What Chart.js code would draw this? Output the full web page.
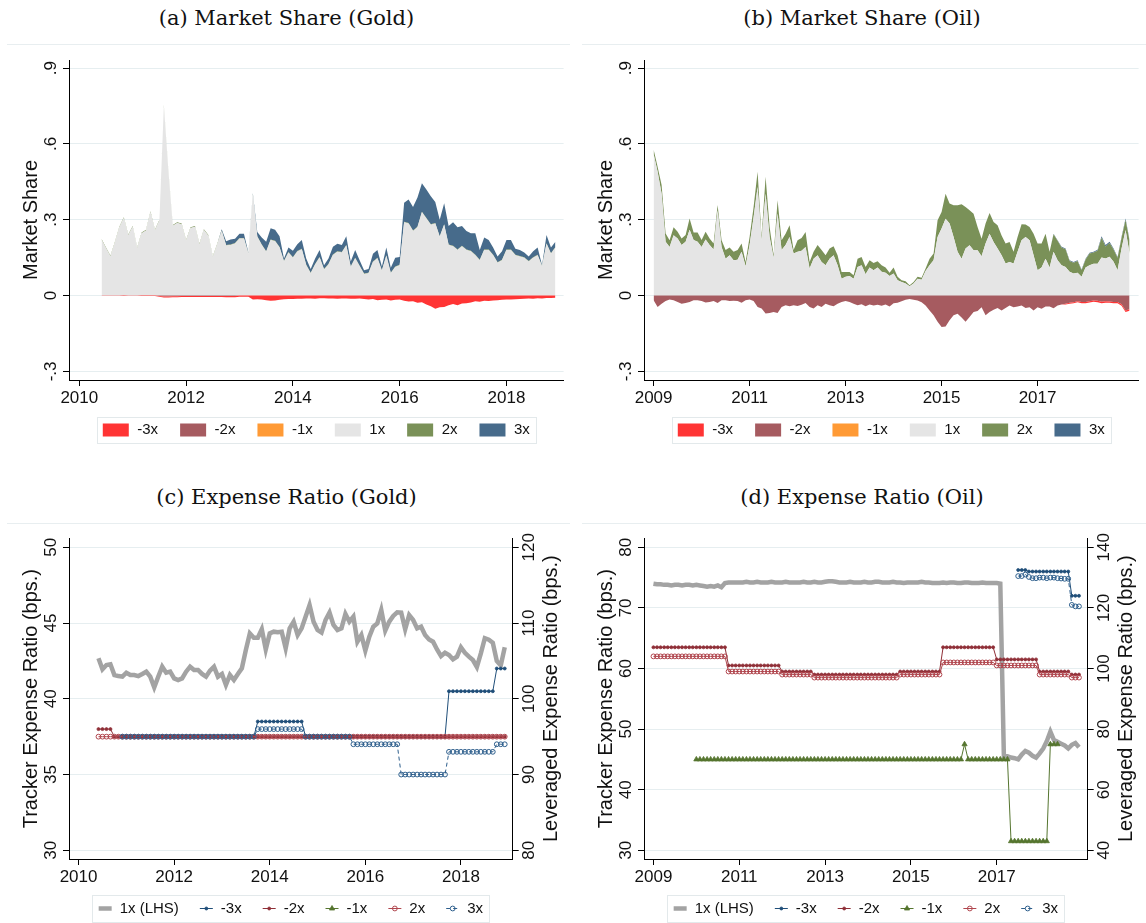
<!DOCTYPE html>
<html>
<head>
<meta charset="utf-8">
<title>Leveraged commodity ETFs: market share and expense ratios</title>
<script src="https://cdn.jsdelivr.net/npm/chart.js@4.4.1/dist/chart.umd.min.js"></script>
<style>
  html, body { margin: 0; padding: 0; background: #fff; }
  #page { position: relative; width: 1146px; height: 923px; overflow: hidden; }
  .panel-title { position: absolute; font: 21px/24px "DejaVu Serif", serif; color: #111; text-align: center; white-space: nowrap; }
  .rule { position: absolute; height: 1px; background: #e8eef0; }
  canvas { position: absolute; }
</style>
</head>
<body>
<div id="page">
  <div class="panel-title" style="left:0;top:6px;width:573px">(a) Market Share (Gold)</div>
  <div class="panel-title" style="left:575px;top:6px;width:574px">(b) Market Share (Oil)</div>
  <div class="rule" style="left:7px;top:44px;width:563px"></div>
  <div class="rule" style="left:582px;top:44px;width:564px"></div>
  <canvas id="shareGold" width="571" height="404" style="left:0;top:46px"></canvas>
  <canvas id="shareOil" width="571" height="404" style="left:575px;top:46px"></canvas>

  <div class="panel-title" style="left:0;top:485px;width:573px">(c) Expense Ratio (Gold)</div>
  <div class="panel-title" style="left:575px;top:485px;width:574px">(d) Expense Ratio (Oil)</div>
  <div class="rule" style="left:7px;top:523px;width:563px"></div>
  <div class="rule" style="left:582px;top:523px;width:564px"></div>
  <canvas id="feeGold" width="571" height="399" style="left:0;top:524px"></canvas>
  <canvas id="feeOil" width="571" height="399" style="left:575px;top:524px"></canvas>
</div>
<script>
// ---- tick labels ----
const goldYearTicks = [2010, 2012, 2014, 2016, 2018];
const oilYearTicks = [2009, 2011, 2013, 2015, 2017];
const shareTicks = [-0.3, 0, 0.3, 0.6, 0.9];
const goldTrackerTicks = [30, 35, 40, 45, 50];
const goldLeveragedTicks = [80, 90, 100, 110, 120];
const oilTrackerTicks = [30, 40, 50, 60, 70, 80];
const oilLeveragedTicks = [40, 60, 80, 100, 120, 140];
const shareLabels = ['-3x', '-2x', '-1x', '1x', '2x', '3x'];
const feeLabels = ['1x (LHS)', '-3x', '-2x', '-1x', '2x', '3x'];

// ---- gold market share, monthly from Jun 2010 ----
const gold1x = [
  .221, .187, .155, .21, .269, .307, .239,
  .272, .187, .247, .257, .331, .257, .297, .751, .497, .276, .287, .282,
  .217, .267, .272, .202, .259, .237, .153, .202, .255, .198, .2, .206,
  .226, .226, .165, .4, .233, .2, .173, .22, .215, .19, .135, .17,
  .15, .174, .183, .12, .088, .123, .151, .103, .123, .161, .173, .17,
  .198, .113, .148, .116, .085, .088, .133, .148, .098, .158, .088, .113,
  .12, .29, .285, .255, .27, .33, .305, .28, .285, .233, .28, .2,
  .195, .18, .195, .18, .175, .16, .14, .18, .18, .16, .13, .14,
  .18, .18, .16, .155, .15, .135, .15, .16, .115, .205, .165, .19
];
const gold2x = [
  .003, .003, .003, .003, .003, .003, .003,
  .003, .003, .003, .003, .003, .003, .003, .003, .003, .003, .003, .003,
  .003, .003, .003, .003, .003, .003, .003, .003, .002, .002, .002, .002,
  .002, .002, .002, .002, .002, .002, .002, .002, .002, .002, .002, .002,
  .002, .002, .002, .002, .002, .002, .002, .002, .002, .002, .002, .002,
  .002, .002, .002, .002, .002, .002, .002, .002, .002, .002, .002, .002,
  .002, .002, .002, .002, .002, .002, .002, .002, .002, .002, .002, .002,
  .002, .002, .002, .002, .002, .002, .002, .002, .002, .002, .002, .002,
  .002, .002, .002, .002, .002, .002, .002, .002, .002, .002, .002, .002
];
// from Sep 2012
const gold3x = [
  .005, .015, .02, .017,
  .017, .017, .003, .003, .017, .028, .038, .044, .043, .043, .01, .018,
  .025, .027, .035, .025, .015, .022, .027, .015, .022, .03, .03, .028,
  .035, .02, .03, .022, .013, .015, .03, .03, .015, .03, .02, .035,
  .031, .075, .093, .093, .116, .112, .113, .111, .083, .065, .083, .073,
  .093, .088, .078, .073, .07, .085, .038, .048, .038, .028, .023, .033,
  .038, .038, .023, .023, .018, .018, .023, .028, .003, .033, .023, .021
];
const goldM1x = [];
// from Jul 2011 to Dec 2012
const goldM2x = [-.002, -.004, -.004, -.003, -.003, -.002,
  -.002, -.002, -.002, -.002, -.002, -.002, -.002, -.002, -.002, -.002, -.002, -.002];
const goldM3x = [
  -.001, -.001, -.001, -.001, -.001, -.002, -.001,
  -.001, -.001, -.002, -.002, -.002, -.002, -.003, -.004, -.004, -.004, -.004, -.004,
  -.004, -.004, -.004, -.004, -.004, -.004, -.004, -.004, -.004, -.005, -.005, -.005,
  -.005, -.005, -.005, -.016, -.015, -.016, -.018, -.02, -.019, -.017, -.015, -.014,
  -.014, -.013, -.013, -.012, -.012, -.013, -.011, -.011, -.012, -.012, -.013, -.012,
  -.012, -.013, -.013, -.012, -.014, -.016, -.014, -.018, -.017, -.016, -.019, -.017,
  -.016, -.02, -.023, -.022, -.028, -.026, -.035, -.042, -.052, -.046, -.045, -.038,
  -.033, -.038, -.031, -.03, -.027, -.022, -.024, -.02, -.021, -.019, -.018, -.017,
  -.016, -.016, -.015, -.014, -.013, -.012, -.013, -.011, -.012, -.01, -.01, -.009
];

// ---- oil market share, monthly from Jan 2009 ----
const oil1x = [
  .56, .49, .403, .213, .192, .239, .226, .2, .213, .26, .22, .213,
  .192, .222, .2, .182, .338, .192, .146, .16, .14, .142, .173, .116,
  .2, .31, .43, .219, .403, .232, .15, .325, .18, .2, .232, .166,
  .173, .177, .192, .107, .146, .16, .133, .12, .146, .16, .12, .067,
  .074, .077, .067, .113, .12, .084, .111, .1, .111, .094, .09, .077,
  .087, .061, .054, .048, .037, .048, .067, .063, .097, .12, .14, .232,
  .265, .304, .285, .232, .173, .146, .186, .199, .179, .179, .156, .206,
  .245, .212, .186, .16, .127, .133, .127, .173, .219, .232, .219, .16,
  .1, .111, .146, .111, .173, .14, .12, .113, .094, .087, .09, .074,
  .111, .12, .126, .126, .151, .147, .154, .134, .1, .186, .259, .167
];
const oil2x = [
  .018, .02, .034, .033, .027, .031, .027, .026, .027, .045, .03, .037,
  .028, .031, .026, .024, .02, .027, .034, .03, .033, .038, .033, .017,
  .032, .04, .06, .013, .067, .04, .01, .052, .039, .045, .046, .014,
  .046, .051, .06, .026, .027, .04, .047, .04, .04, .035, .04, .026,
  .019, .016, .013, .033, .033, .029, .029, .029, .025, .026, .021, .013,
  .024, .013, .007, .009, .004, .006, .007, .008, .01, .026, .026, .066,
  .066, .099, .079, .125, .184, .215, .164, .139, .145, .092, .069, .079,
  .082, .079, .092, .078, .079, .079, .046, .059, .063, .049, .052, .085,
  .106, .095, .099, .062, .07, .077, .07, .07, .043, .043, .047, .026,
  .032, .046, .044, .051, .078, .047, .054, .048, .05, .043, .04, .049
];
// from May 2017
const oil3x = [.002, .002, .003, .003, .003, .003, .003, .003, .003, .003,
  .003, .004, .006, .006, .005, .004, .003, .004, .006, .004];
const oilM1x = [];
const oilM2x = [
  -.018, -.045, -.032, -.021, -.016, -.018, -.025, -.032, -.029, -.025, -.018, -.018,
  -.021, -.027, -.025, -.021, -.029, -.018, -.018, -.021, -.02, -.021, -.028, -.018,
  -.016, -.021, -.045, -.051, -.071, -.069, -.065, -.069, -.045, -.038, -.042, -.038,
  -.041, -.036, -.029, -.045, -.051, -.038, -.045, -.032, -.038, -.042, -.032, -.025,
  -.021, -.025, -.032, -.038, -.034, -.042, -.035, -.039, -.036, -.04, -.035, -.043,
  -.03, -.028, -.022, -.017, -.014, -.017, -.019, -.026, -.039, -.059, -.078, -.104,
  -.124, -.122, -.098, -.078, -.072, -.087, -.104, -.085, -.065, -.061, -.046, -.078,
  -.065, -.056, -.049, -.059, -.049, -.039, -.046, -.043, -.039, -.049, -.046, -.059,
  -.046, -.052, -.043, -.043, -.05, -.039, -.035, -.032, -.028, -.026, -.022, -.025,
  -.025, -.022, -.019, -.02, -.024, -.022, -.023, -.025, -.025, -.034, -.059, -.054
];
// from Aug 2017
const oilM3x = [-.003, -.004, -.004, -.004, -.005, -.005, -.005, -.005, -.006,
  -.006, -.006, -.005, -.005, -.005, -.006, -.006, -.006];

// ---- gold expense ratios (bps.), monthly from Jun 2010 ----
const goldFee1x = [
  42.67, 41.95, 42.23, 42.28, 41.57, 41.5, 41.46,
  41.72, 41.57, 41.57, 41.5, 41.64, 41.79, 41.46, 40.76, 41.46, 42.12, 41.72, 41.79,
  41.35, 41.24, 41.35, 41.79, 42.12, 41.9, 41.9, 41.64, 41.46, 41.86, 42.12, 41.46,
  41.64, 40.91, 41.57, 41.24, 41.64, 42.01, 43.22, 44.32, 44.03, 44.03, 44.59, 43.26,
  44.32, 44.43, 44.39, 44.43, 43.33, 44.65, 45.09, 44.21, 44.65, 45.42, 46.19, 45.09,
  44.54, 44.37, 45.2, 45.69, 44.87, 44.54, 44.65, 45.6, 45.09, 45.42, 43.77, 44.21,
  43.18, 44.1, 44.76, 44.98, 45.86, 44.5, 45.09, 45.47, 45.71, 45.69, 44.59, 45.53,
  45.2, 44.65, 44.76, 44.21, 43.92, 43.77, 43.26, 42.82, 43.04, 42.89, 42.61, 42.78,
  43.4, 43.04, 42.78, 42.56, 42.1, 43.0, 44.0, 43.9, 43.7, 42.5, 42.2, 43.4
];
// from Dec 2010
const goldFeeM3x = [
  95,
  95, 95, 95, 95, 95, 95, 95, 95, 95, 95, 95, 95,
  95, 95, 95, 95, 95, 95, 95, 95, 95, 95, 95, 95,
  95, 95, 95, 95, 95, 95, 95, 95, 95, 97, 97, 97,
  97, 97, 97, 97, 97, 97, 97, 97, 97, 95, 95, 95,
  95, 95, 95, 95, 95, 95, 95, 95, 95, 95, 95, 95,
  95, 95, 95, 95, 95, 95, 95, 95, 95, 95, 95, 95,
  95, 95, 95, 95, 95, 95, 95, 95, 95, 101, 101, 101,
  101, 101, 101, 101, 101, 101, 101, 101, 101, 104, 104, 104
];
const goldFeeM2x = [
  96, 96, 96, 96, 95, 95, 95,
  95, 95, 95, 95, 95, 95, 95, 95, 95, 95, 95, 95,
  95, 95, 95, 95, 95, 95, 95, 95, 95, 95, 95, 95,
  95, 95, 95, 95, 95, 95, 95, 95, 95, 95, 95, 95,
  95, 95, 95, 95, 95, 95, 95, 95, 95, 95, 95, 95,
  95, 95, 95, 95, 95, 95, 95, 95, 95, 95, 95, 95,
  95, 95, 95, 95, 95, 95, 95, 95, 95, 95, 95, 95,
  95, 95, 95, 95, 95, 95, 95, 95, 95, 95, 95, 95,
  95, 95, 95, 95, 95, 95, 95, 95, 95, 95, 95, 95
];
const goldFeeM1x = [];
const goldFee2x = [
  95, 95, 95, 95, 95, 95, 95,
  95, 95, 95, 95, 95, 95, 95, 95, 95, 95, 95, 95,
  95, 95, 95, 95, 95, 95, 95, 95, 95, 95, 95, 95,
  95, 95, 95, 95, 95, 95, 95, 95, 95, 95, 95, 95,
  95, 95, 95, 95, 95, 95, 95, 95, 95, 95, 95, 95,
  95, 95, 95, 95, 95, 95, 95, 95, 95, 95, 95, 95,
  95, 95, 95, 95, 95, 95, 95, 95, 95, 95, 95, 95,
  95, 95, 95, 95, 95, 95, 95, 95, 95, 95, 95, 95,
  95, 95, 95, 95, 95, 95, 95, 95, 95, 95, 95, 95
];
// from Dec 2010
const goldFee3x = [
  95,
  95, 95, 95, 95, 95, 95, 95, 95, 95, 95, 95, 95,
  95, 95, 95, 95, 95, 95, 95, 95, 95, 95, 95, 95,
  95, 95, 95, 95, 95, 95, 95, 95, 95, 96, 96, 96,
  96, 96, 96, 96, 96, 96, 96, 96, 96, 95, 95, 95,
  95, 95, 95, 95, 95, 95, 95, 95, 95, 94, 94, 94,
  94, 94, 94, 94, 94, 94, 94, 94, 94, 90, 90, 90,
  90, 90, 90, 90, 90, 90, 90, 90, 90, 93, 93, 93,
  93, 93, 93, 93, 93, 93, 93, 93, 93, 94, 94, 94
];

// ---- oil expense ratios (bps.), monthly from Jan 2009 ----
const oilFee1x = [
  74.0, 73.9, 73.9, 73.8, 73.8, 73.7, 73.8, 73.8, 73.7, 73.8, 73.8, 73.7,
  73.8, 73.7, 73.6, 73.5, 73.6, 73.5, 73.7, 73.4, 74.1, 74.2, 74.2, 74.2,
  74.2, 74.2, 74.3, 74.2, 74.2, 74.3, 74.2, 74.2, 74.2, 74.3, 74.2, 74.2,
  74.2, 74.3, 74.2, 74.2, 74.2, 74.2, 74.3, 74.2, 74.2, 74.3, 74.2, 74.2,
  74.3, 74.4, 74.4, 74.3, 74.2, 74.2, 74.2, 74.3, 74.2, 74.2, 74.2, 74.3,
  74.2, 74.2, 74.3, 74.3, 74.2, 74.2, 74.2, 74.3, 74.2, 74.2, 74.1, 74.2,
  74.2, 74.2, 74.2, 74.3, 74.2, 74.2, 74.1, 74.1, 74.1, 74.2, 74.1, 74.2,
  74.2, 74.1, 74.1, 74.2, 74.2, 74.1, 74.1, 74.1, 74.2, 74.1, 74.1, 74.1,
  74.1, 74.0, 45.5, 45.5, 45.3, 45.2, 45.0, 45.8, 46.4, 46.1, 45.6, 45.3,
  46.0, 46.8, 48.0, 49.6, 48.2, 47.9, 47.6, 47.3, 46.8, 47.4, 47.7, 47.0
];
// from Jul 2017
const oilFeeM3x = [132.5, 132.5, 132.5, 132, 132, 132, 132, 132, 132,
  132, 132, 132, 132, 132, 132, 124, 124, 124];
const oilFeeM2x = [
  107, 107, 107, 107, 107, 107, 107, 107, 107, 107, 107, 107,
  107, 107, 107, 107, 107, 107, 107, 107, 107, 101, 101, 101,
  101, 101, 101, 101, 101, 101, 101, 101, 101, 101, 101, 101,
  99, 99, 99, 99, 99, 99, 99, 99, 99, 98, 98, 98,
  98, 98, 98, 98, 98, 98, 98, 98, 98, 98, 98, 98,
  98, 98, 98, 98, 98, 98, 98, 98, 98, 99, 99, 99,
  99, 99, 99, 99, 99, 99, 99, 99, 99, 107, 107, 107,
  107, 107, 107, 107, 107, 107, 107, 107, 107, 107, 107, 107,
  103, 103, 103, 103, 103, 103, 103, 103, 103, 103, 103, 103,
  99, 99, 99, 99, 99, 99, 99, 99, 99, 98, 98, 98
];
// from Jan 2010 to Jun 2018
const oilFeeM1x = [
  70, 70, 70, 70, 70, 70, 70, 70, 70, 70, 70, 70,
  70, 70, 70, 70, 70, 70, 70, 70, 70, 70, 70, 70,
  70, 70, 70, 70, 70, 70, 70, 70, 70, 70, 70, 70,
  70, 70, 70, 70, 70, 70, 70, 70, 70, 70, 70, 70,
  70, 70, 70, 70, 70, 70, 70, 70, 70, 70, 70, 70,
  70, 70, 70, 70, 70, 70, 70, 70, 70, 70, 70, 70,
  70, 70, 70, 75, 70, 70, 70, 70, 70, 70, 70, 70,
  70, 70, 70, 70, 43, 43, 43, 43, 43, 43, 43, 43,
  43, 43, 43, 75, 75, 75
];
const oilFee2x = [
  104, 104, 104, 104, 104, 104, 104, 104, 104, 104, 104, 104,
  104, 104, 104, 104, 104, 104, 104, 104, 104, 99, 99, 99,
  99, 99, 99, 99, 99, 99, 99, 99, 99, 99, 99, 99,
  98, 98, 98, 98, 98, 98, 98, 98, 98, 97, 97, 97,
  97, 97, 97, 97, 97, 97, 97, 97, 97, 97, 97, 97,
  97, 97, 97, 97, 97, 97, 97, 97, 97, 98, 98, 98,
  98, 98, 98, 98, 98, 98, 98, 98, 98, 102, 102, 102,
  102, 102, 102, 102, 102, 102, 102, 102, 102, 102, 102, 102,
  101, 101, 101, 101, 101, 101, 101, 101, 101, 101, 101, 101,
  98, 98, 98, 98, 98, 98, 98, 98, 98, 97, 97, 97
];
// from Jul 2017
const oilFee3x = [130.5, 130.5, 131, 130.2, 129.8, 129.8, 130, 130, 129.8,
  130, 130, 129.8, 129.7, 129.6, 129.6, 121, 120.5, 120.5];

// ---- helpers ----
function monthGrid(year, month, n) {
  return Array.from({ length: n }, (_, i) => year + (month - 1 + i) / 12);
}
const goldMonths = monthGrid(2010, 6, 103);
const oilMonths = monthGrid(2009, 1, 120);

// a layer can start later than the grid; months outside it count as zero
function layerAt(vals, from, i) {
  const k = i - from;
  return k >= 0 && k < vals.length ? vals[k] : 0;
}

// running edges of a one-sided stack, first layer sits on zero
function stackEdges(xs, layers) {
  const run = xs.map(() => 0);
  return layers.map(([vals, from]) => xs.map((x, i) => {
    run[i] += layerAt(vals, from, i);
    return { x, y: run[i] };
  }));
}

function points(xs, vals, from = 0) {
  return vals.map((y, i) => ({ x: xs[from + i], y }));
}

function shareLabel(v) {
  if (v === 0) return '0';
  return (v < 0 ? '-' : '') + String(Math.abs(v)).replace(/^0/, '');
}

Chart.defaults.font.family = '"Liberation Sans", Arial, sans-serif';
Chart.defaults.color = '#111';
const TICK_FONT = { size: 17 };
const TITLE_FONT = { size: 20 };

// boxed legend under the plot, items laid out in one centred row
const boxLegend = {
  id: 'boxLegend',
  afterDraw(chart, args, o) {
    const { ctx, chartArea } = chart;
    const sets = chart.data.datasets;
    ctx.save();
    ctx.font = '15px "Liberation Sans", Arial, sans-serif';
    const widths = sets.map(ds => o.sampleW + o.gap + ctx.measureText(ds.label).width);
    const total = widths.reduce((a, b) => a + b, 0) + o.spacing * (sets.length - 1);
    let x = (chartArea.left + chartArea.right) / 2 - total / 2;
    const y = chartArea.bottom + o.offset;
    ctx.strokeStyle = '#e3e9eb';
    ctx.lineWidth = 1;
    ctx.strokeRect(Math.round(x - o.margin) + 0.5, Math.round(y - o.boxH / 2) + 0.5,
      Math.round(total + 2 * o.margin), o.boxH);
    sets.forEach((ds, i) => {
      if (o.kind === 'area') {
        ctx.fillStyle = ds.backgroundColor;
        ctx.fillRect(x, y - o.sampleH / 2, o.sampleW, o.sampleH);
      } else {
        ctx.strokeStyle = ds.borderColor;
        ctx.lineWidth = ds.borderWidth;
        ctx.setLineDash(ds.borderDash || []);
        ctx.beginPath();
        ctx.moveTo(x, y);
        ctx.lineTo(x + o.sampleW, y);
        ctx.stroke();
        ctx.setLineDash([]);
        if (ds.pointRadius > 0) {
          ctx.fillStyle = ds.pointBackgroundColor;
          ctx.strokeStyle = ds.pointBorderColor;
          ctx.lineWidth = ds.pointBorderWidth || 1;
          Chart.helpers.drawPoint(ctx, {
            pointStyle: ds.pointStyle, radius: ds.pointRadius,
            borderWidth: ds.pointBorderWidth || 1, rotation: 0
          }, x + o.sampleW / 2, y);
        }
      }
      ctx.fillStyle = '#111';
      ctx.textAlign = 'left';
      ctx.textBaseline = 'middle';
      ctx.fillText(ds.label, x + o.sampleW + o.gap, y);
      x += widths[i] + o.spacing;
    });
    ctx.restore();
  }
};

// right-hand axis title, reading bottom to top like the left one
const sideTitle = {
  id: 'sideTitle',
  afterDraw(chart, args, o) {
    if (!o.text) return;
    const { ctx, chartArea } = chart;
    ctx.save();
    ctx.translate(o.x, (chartArea.top + chartArea.bottom) / 2);
    ctx.rotate(-Math.PI / 2);
    ctx.font = '20px "Liberation Sans", Arial, sans-serif';
    ctx.fillStyle = '#111';
    ctx.textAlign = 'center';
    ctx.textBaseline = 'middle';
    ctx.fillText(o.text, 0, 0);
    ctx.restore();
  }
};

function yearAxis(range, years) {
  return {
    type: 'linear', position: 'bottom', min: range[0], max: range[1],
    afterBuildTicks: s => { s.ticks = years.map(value => ({ value })); },
    afterFit: s => { s.height = 30; },
    ticks: { font: TICK_FONT, color: '#111', padding: 2.5, maxRotation: 0, autoSkip: false, callback: v => String(v) },
    grid: { drawOnChartArea: false, tickLength: 6, tickColor: '#000' },
    border: { color: '#000', width: 1 }
  };
}

function valueAxis(position, range, ticks, fmt, pad, title) {
  return {
    type: 'linear', position, min: range[0], max: range[1],
    afterBuildTicks: s => { s.ticks = ticks.map(value => ({ value })); },
    afterFit: s => { s.width = position === 'left' ? 69 : 58.3; },
    ticks: { font: TICK_FONT, color: '#111', minRotation: 90, maxRotation: 90, crossAlign: 'center', padding: pad, callback: fmt },
    grid: { color: '#e6eef0', lineWidth: 1, tickLength: 6, tickColor: '#000', drawOnChartArea: position === 'left' },
    border: { color: '#000', width: 1 },
    title: { display: !!title, text: title, font: TITLE_FONT, color: '#111', padding: { top: 19, bottom: 0 } }
  };
}

const SHARE_COLORS = ['#ff3434', '#a65b60', '#ff9a35', '#e5e5e5', '#7a9158', '#476b8b'];

function shareChart(id, xs, pos, neg, xRange, years) {
  const [p1, p2, p3] = stackEdges(xs, pos);
  const [n1, n2, n3] = stackEdges(xs, neg);
  const area = (i, data, fill) => ({
    label: shareLabels[i], data, fill, backgroundColor: SHARE_COLORS[i], borderColor: SHARE_COLORS[i],
    borderWidth: 0, pointRadius: 0, tension: 0
  });
  return new Chart(document.getElementById(id), {
    type: 'line',
    data: {
      datasets: [
        area(0, n3, '+1'), area(1, n2, '+1'), area(2, n1, 'origin'),
        area(3, p1, 'origin'), area(4, p2, '-1'), area(5, p3, '-1')
      ]
    },
    options: {
      responsive: false, animation: false, devicePixelRatio: 1,
      layout: { padding: { left: 0, right: 7.4, top: 14, bottom: 40 } },
      scales: {
        x: yearAxis(xRange, years),
        y: valueAxis('left', [-0.334, 0.932], shareTicks, shareLabel, 2.1, 'Market Share')
      },
      plugins: {
        legend: { display: false }, tooltip: { enabled: false },
        boxLegend: { kind: 'area', offset: 50, sampleW: 26, sampleH: 13, gap: 8.5, spacing: 22, margin: 6, boxH: 26 }
      }
    },
    plugins: [boxLegend]
  });
}

const NAVY = '#1f4e79', NAVY_LIGHT = '#2d5e8c', MAROON = '#8f2f37', ROSE = '#b0464e', GREEN = '#55752f';
const HOLLOW = 'rgba(255,255,255,0)';
const FEE_STYLES = [
  { borderColor: '#a3a3a3', borderWidth: 4.5, pointRadius: 0, order: 5, yAxisID: 'y' },
  { borderColor: NAVY, borderWidth: 1, pointStyle: 'circle', pointRadius: 1.5, pointBackgroundColor: NAVY, pointBorderColor: NAVY, pointBorderWidth: 0.8, order: 4, yAxisID: 'y2' },
  { borderColor: MAROON, borderWidth: 1, pointStyle: 'circle', pointRadius: 1.5, pointBackgroundColor: MAROON, pointBorderColor: MAROON, pointBorderWidth: 0.8, order: 2, yAxisID: 'y2' },
  { borderColor: GREEN, borderWidth: 1, pointStyle: 'triangle', pointRadius: 3, pointBackgroundColor: GREEN, pointBorderColor: GREEN, pointBorderWidth: 0.8, order: 3, yAxisID: 'y2' },
  { borderColor: ROSE, borderWidth: 1, pointStyle: 'circle', pointRadius: 2.4, pointBackgroundColor: HOLLOW, pointBorderColor: ROSE, pointBorderWidth: 1, order: 1, yAxisID: 'y2' },
  { borderColor: NAVY_LIGHT, borderWidth: 1, borderDash: [4, 3], pointStyle: 'circle', pointRadius: 2.4, pointBackgroundColor: HOLLOW, pointBorderColor: NAVY_LIGHT, pointBorderWidth: 1, order: 0, yAxisID: 'y2' }
];

function feeChart(id, xs, series, xRange, years, left, right) {
  const datasets = series.map(([vals, from], i) => Object.assign({
    label: feeLabels[i], data: points(xs, vals, from), fill: false, tension: 0
  }, FEE_STYLES[i]));
  return new Chart(document.getElementById(id), {
    type: 'line',
    data: { datasets },
    options: {
      responsive: false, animation: false, devicePixelRatio: 1,
      layout: { padding: { left: 0, right: 0, top: 14.3, bottom: 34 } },
      scales: {
        x: yearAxis(xRange, years),
        y: valueAxis('left', left.range, left.ticks, v => String(v), 2.55, 'Tracker Expense Ratio (bps.)'),
        y2: valueAxis('right', right.range, right.ticks, v => String(v), -3.9, '')
      },
      plugins: {
        legend: { display: false }, tooltip: { enabled: false },
        boxLegend: { kind: 'line', offset: 49.5, sampleW: 13, gap: 8, spacing: 21, margin: 6.5, boxH: 27 },
        sideTitle: { text: 'Leveraged Expense Ratio (bps.)', x: 551 }
      }
    },
    plugins: [boxLegend, sideTitle]
  });
}

// ---- panels ----
shareChart('shareGold', goldMonths,
  [[gold1x, 0], [gold2x, 0], [gold3x, 27]],
  [[goldM1x, 0], [goldM2x, 13], [goldM3x, 0]],
  [2009.807, 2019.07], goldYearTicks);

shareChart('shareOil', oilMonths,
  [[oil1x, 0], [oil2x, 0], [oil3x, 100]],
  [[oilM1x, 0], [oilM2x, 0], [oilM3x, 103]],
  [2008.80, 2019.105], oilYearTicks);

feeChart('feeGold', goldMonths,
  [[goldFee1x, 0], [goldFeeM3x, 6], [goldFeeM2x, 0], [goldFeeM1x, 0], [goldFee2x, 0], [goldFee3x, 6]],
  [2009.80, 2019.083], goldYearTicks,
  { range: [29.426, 50.594], ticks: goldTrackerTicks },
  { range: [78.85, 121.19], ticks: goldLeveragedTicks });

feeChart('feeOil', oilMonths,
  [[oilFee1x, 0], [oilFeeM3x, 102], [oilFeeM2x, 0], [oilFeeM1x, 12], [oilFee2x, 0], [oilFee3x, 102]],
  [2008.78, 2019.12], oilYearTicks,
  { range: [28.564, 81.485], ticks: oilTrackerTicks },
  { range: [37.13, 142.97], ticks: oilLeveragedTicks });
</script>
</body>
</html>
